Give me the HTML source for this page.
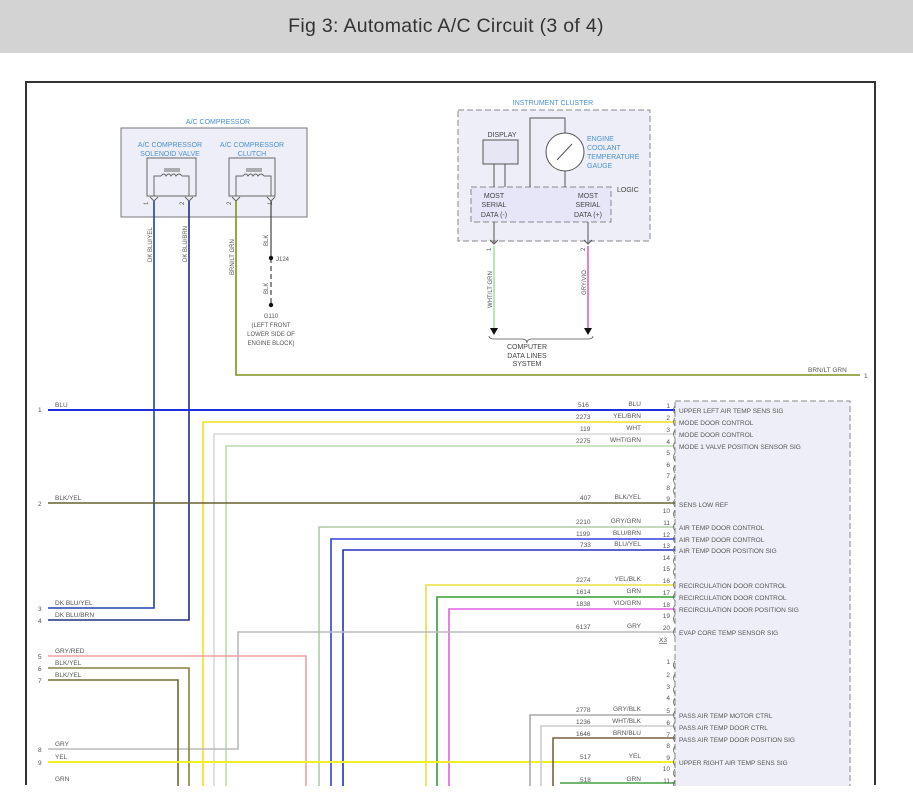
<!DOCTYPE html>
<html><head><meta charset="utf-8"><style>
html,body{margin:0;padding:0;background:#fff;}
svg{display:block;font-family:"Liberation Sans",sans-serif;}
</style></head><body>
<svg width="913" height="805" viewBox="0 0 913 805" xmlns="http://www.w3.org/2000/svg">
<rect x="0" y="0" width="913" height="53" fill="#d3d3d3"/>
<text x="446" y="32" text-anchor="middle" font-size="19.5" fill="#333" letter-spacing="0.3">Fig 3: Automatic A/C Circuit (3 of 4)</text>
<rect x="0" y="53" width="913" height="752" fill="#fff"/>
<path d="M26 785 V82 H875 V785" fill="none" stroke="#333" stroke-width="2"/>

<text x="218" y="124" text-anchor="middle" font-size="7" fill="#4a90d0">A/C COMPRESSOR</text>
<rect x="121" y="128" width="186" height="89" fill="#eeeef8" stroke="#777"/>
<text x="170" y="147" text-anchor="middle" font-size="7" fill="#4a90d0">A/C COMPRESSOR</text>
<text x="170" y="156" text-anchor="middle" font-size="7" fill="#4a90d0">SOLENOID VALVE</text>
<text x="252" y="147" text-anchor="middle" font-size="7" fill="#4a90d0">A/C COMPRESSOR</text>
<text x="252" y="156" text-anchor="middle" font-size="7" fill="#4a90d0">CLUTCH</text>
<g fill="none" stroke="#666" stroke-width="1">
<rect x="147" y="158" width="49" height="38"/>
<rect x="229" y="158" width="46" height="38"/>
<path d="M154 196 V176 H161 M182 176 H189 V196 M161 176 q3 -4 5 0 q3 -4 5 0 q3 -4 5 0 q3 -4 6 0 M164 171 H180 M164 169 H180"/>
<path d="M236 196 V176 H243 M264 176 H271 V196 M243 176 q3 -4 5 0 q3 -4 5 0 q3 -4 5 0 q3 -4 6 0 M246 171 H262 M246 169 H262"/>
<path d="M150 197 l4 4 l4 -4 M185 197 l4 4 l4 -4 M232 197 l4 4 l4 -4 M267 197 l4 4 l4 -4"/>
</g>
<g font-size="6" fill="#555">
<text transform="translate(148,205) rotate(-90)">1</text>
<text transform="translate(184,205) rotate(-90)">2</text>
<text transform="translate(231,205) rotate(-90)">2</text>
<text transform="translate(272,205) rotate(-90)">1</text>
<text transform="translate(152,262) rotate(-90)">DK BLU/YEL</text>
<text transform="translate(187,262) rotate(-90)">DK BLU/BRN</text>
<text transform="translate(234,275) rotate(-90)">BRN/LT GRN</text>
<text transform="translate(268,246) rotate(-90)">BLK</text>
<text transform="translate(268,294) rotate(-90)">BLK</text>
<text x="276" y="261">J124</text>
<text x="271" y="318" text-anchor="middle">G110</text>
<text x="271" y="327" text-anchor="middle">(LEFT FRONT</text>
<text x="271" y="336" text-anchor="middle">LOWER SIDE OF</text>
<text x="271" y="345" text-anchor="middle">ENGINE BLOCK)</text>
</g>
<path d="M271 201 V258" stroke="#444" stroke-width="1.2"/>
<path d="M271 258 V305" stroke="#444" stroke-width="1.2" stroke-dasharray="5,3"/>
<circle cx="271" cy="258" r="2.2" fill="#111"/>
<circle cx="271" cy="305" r="2.2" fill="#111"/>

<text x="553" y="105" text-anchor="middle" font-size="7" fill="#4a90d0">INSTRUMENT CLUSTER</text>
<rect x="458" y="110" width="192" height="131" fill="#eeeef8" stroke="#888" stroke-dasharray="6,3"/>
<rect x="471" y="187" width="140" height="35" fill="#e6e6f8" stroke="#888" stroke-dasharray="6,3"/>
<text x="502" y="137" text-anchor="middle" font-size="7" fill="#444">DISPLAY</text>
<rect x="483" y="140" width="35" height="24" fill="#e6e6f4" stroke="#555"/>
<path d="M494 164 V187 M505 164 V187 M530 187 V118 H565 V133 M565 171 V187" stroke="#555" fill="none"/>
<circle cx="565" cy="152" r="19" fill="#fff" stroke="#555"/>
<path d="M557 160 L572 144" stroke="#555"/>
<g font-size="7" fill="#4a90d0">
<text x="587" y="141">ENGINE</text><text x="587" y="150">COOLANT</text><text x="587" y="159">TEMPERATURE</text><text x="587" y="168">GAUGE</text>
</g>
<g font-size="7" fill="#444">
<text x="617" y="192">LOGIC</text>
<text x="494" y="198" text-anchor="middle">MOST</text><text x="494" y="207" text-anchor="middle">SERIAL</text><text x="494" y="217" text-anchor="middle">DATA (-)</text>
<text x="588" y="198" text-anchor="middle">MOST</text><text x="588" y="207" text-anchor="middle">SERIAL</text><text x="588" y="217" text-anchor="middle">DATA (+)</text>
<text x="527" y="349" text-anchor="middle">COMPUTER</text><text x="527" y="358" text-anchor="middle">DATA LINES</text><text x="527" y="366" text-anchor="middle">SYSTEM</text>
</g>
<path d="M494 222 V243 M588 222 V243 M490 240 l4 4 l4 -4 M584 240 l4 4 l4 -4" stroke="#555" fill="none"/>
<path d="M494 246 V328" stroke="#b8e8b0" stroke-width="2"/>
<path d="M588 246 V328" stroke="#e080e0" stroke-width="2"/>
<path d="M490 328 h8 l-4 7z M584 328 h8 l-4 7z" fill="#111"/>
<path d="M489 336 q0 3 5 3 H522 q5 0 5 4 q0 -4 5 -4 H588 q5 0 5 -3" fill="none" stroke="#555" stroke-width="0.8"/>
<g font-size="6" fill="#555">
<text transform="translate(492,308) rotate(-90)">WHT/LT GRN</text>
<text transform="translate(586,295) rotate(-90)">GRY/VIO</text>
<text transform="translate(491,251) rotate(-90)">1</text>
<text transform="translate(585,251) rotate(-90)">2</text>
</g>

<rect x="675" y="401" width="175" height="400" fill="#eeeef8" stroke="#888" stroke-dasharray="6,3"/>

<g fill="none" stroke-width="1.6">
<path d="M236 201 V375 H860" stroke="#8a8a20"/>
<path d="M236 201 V375 H860" stroke="#6a9a20" stroke-width="0.6"/>
<path d="M154 201 V608 H48" stroke="#2040b0"/>
<path d="M189 201 V620 H48" stroke="#203080"/>
<path d="M48 410 H675" stroke="#2030e0" stroke-width="2"/>
<path d="M203 790 V422 H675" stroke="#f0e020"/>
<path d="M214 790 V434 H675" stroke="#d8d8d8"/>
<path d="M226 790 V446 H675" stroke="#b8dca8"/>
<path d="M48 503 H675" stroke="#6a6030"/>
<path d="M319 790 V527 H675" stroke="#b0cca8"/>
<path d="M331 790 V539 H675" stroke="#3040e0"/>
<path d="M343 790 V550 H675" stroke="#2030c0"/>
<path d="M426 790 V585 H675" stroke="#e8e040"/>
<path d="M437 790 V597 H675" stroke="#30a030"/>
<path d="M449 790 V609 H675" stroke="#e060e0"/>
<path d="M48 749 H238 V632 H675" stroke="#bbbbbb"/>
<path d="M48 656 H306 V790" stroke="#f0a0a0"/>
<path d="M48 668 H189 V790" stroke="#8a8040"/>
<path d="M48 680 H178 V790" stroke="#706838"/>
<path d="M48 762 H675" stroke="#f0f020" stroke-width="2"/>
<path d="M530 790 V715 H675" stroke="#aaaaaa"/>
<path d="M541 790 V726 H675" stroke="#cccccc"/>
<path d="M553 790 V738 H675" stroke="#7a6040"/>
<path d="M560 783 H675" stroke="#40a040"/>
</g>

<g font-size="6.5" fill="#555">
<text x="808" y="372">BRN/LT GRN</text><text x="864" y="378">1</text>
<text x="38" y="412">1</text><text x="55" y="407">BLU</text>
<text x="38" y="506">2</text><text x="55" y="500">BLK/YEL</text>
<text x="38" y="611">3</text><text x="55" y="605">DK BLU/YEL</text>
<text x="38" y="623">4</text><text x="55" y="617">DK BLU/BRN</text>
<text x="38" y="659">5</text><text x="55" y="653">GRY/RED</text>
<text x="38" y="671">6</text><text x="55" y="665">BLK/YEL</text>
<text x="38" y="683">7</text><text x="55" y="677">BLK/YEL</text>
<text x="38" y="752">8</text><text x="55" y="746">GRY</text>
<text x="38" y="765">9</text><text x="55" y="759">YEL</text>
<text x="55" y="781">GRN</text>
</g>

<g font-size="6.5" fill="#555">
<text x="578" y="407">516</text><text x="641" y="406" text-anchor="end">BLU</text><text x="670" y="408" text-anchor="end">1</text><text x="679" y="413">UPPER LEFT AIR TEMP SENS SIG</text>
<text x="576" y="419">2273</text><text x="641" y="418" text-anchor="end">YEL/BRN</text><text x="670" y="420" text-anchor="end">2</text><text x="679" y="425">MODE DOOR CONTROL</text>
<text x="580" y="431">119</text><text x="641" y="430" text-anchor="end">WHT</text><text x="670" y="432" text-anchor="end">3</text><text x="679" y="437">MODE DOOR CONTROL</text>
<text x="576" y="443">2275</text><text x="641" y="442" text-anchor="end">WHT/GRN</text><text x="670" y="444" text-anchor="end">4</text><text x="679" y="449">MODE 1 VALVE POSITION SENSOR SIG</text>
<text x="670" y="455" text-anchor="end">5</text>
<text x="670" y="467" text-anchor="end">6</text>
<text x="670" y="478" text-anchor="end">7</text>
<text x="670" y="490" text-anchor="end">8</text>
<text x="580" y="500">407</text><text x="641" y="499" text-anchor="end">BLK/YEL</text><text x="670" y="501" text-anchor="end">9</text><text x="679" y="507">SENS LOW REF</text>
<text x="670" y="513" text-anchor="end">10</text>
<text x="576" y="524">2210</text><text x="641" y="523" text-anchor="end">GRY/GRN</text><text x="670" y="525" text-anchor="end">11</text><text x="679" y="530">AIR TEMP DOOR CONTROL</text>
<text x="576" y="536">1199</text><text x="641" y="535" text-anchor="end">BLU/BRN</text><text x="670" y="537" text-anchor="end">12</text><text x="679" y="542">AIR TEMP DOOR CONTROL</text>
<text x="580" y="547">733</text><text x="641" y="546" text-anchor="end">BLU/YEL</text><text x="670" y="548" text-anchor="end">13</text><text x="679" y="553">AIR TEMP DOOR POSITION SIG</text>
<text x="670" y="560" text-anchor="end">14</text>
<text x="670" y="571" text-anchor="end">15</text>
<text x="576" y="582">2274</text><text x="641" y="581" text-anchor="end">YEL/BLK</text><text x="670" y="583" text-anchor="end">16</text><text x="679" y="588">RECIRCULATION DOOR CONTROL</text>
<text x="576" y="594">1614</text><text x="641" y="593" text-anchor="end">GRN</text><text x="670" y="595" text-anchor="end">17</text><text x="679" y="600">RECIRCULATION DOOR CONTROL</text>
<text x="576" y="606">1838</text><text x="641" y="605" text-anchor="end">VIO/GRN</text><text x="670" y="607" text-anchor="end">18</text><text x="679" y="612">RECIRCULATION DOOR POSITION SIG</text>
<text x="670" y="618" text-anchor="end">19</text>
<text x="576" y="629">6137</text><text x="641" y="628" text-anchor="end">GRY</text><text x="670" y="630" text-anchor="end">20</text><text x="679" y="635">EVAP CORE TEMP SENSOR SIG</text>
<text x="667" y="642" text-anchor="end" text-decoration="underline">X3</text>
<text x="670" y="664" text-anchor="end">1</text>
<text x="670" y="677" text-anchor="end">2</text>
<text x="670" y="689" text-anchor="end">3</text>
<text x="670" y="700" text-anchor="end">4</text>
<text x="576" y="712">2778</text><text x="641" y="711" text-anchor="end">GRY/BLK</text><text x="670" y="713" text-anchor="end">5</text><text x="679" y="718">PASS AIR TEMP MOTOR CTRL</text>
<text x="576" y="724">1236</text><text x="641" y="723" text-anchor="end">WHT/BLK</text><text x="670" y="725" text-anchor="end">6</text><text x="679" y="730">PASS AIR TEMP DOOR CTRL</text>
<text x="576" y="736">1646</text><text x="641" y="735" text-anchor="end">BRN/BLU</text><text x="670" y="737" text-anchor="end">7</text><text x="679" y="742">PASS AIR TEMP DOOR POSITION SIG</text>
<text x="670" y="748" text-anchor="end">8</text>
<text x="580" y="759">517</text><text x="641" y="758" text-anchor="end">YEL</text><text x="670" y="760" text-anchor="end">9</text><text x="679" y="765">UPPER RIGHT AIR TEMP SENS SIG</text>
<text x="670" y="771" text-anchor="end">10</text>
<text x="580" y="782">518</text><text x="641" y="781" text-anchor="end">GRN</text><text x="670" y="783" text-anchor="end">11</text>
</g>
<g fill="none" stroke="#666" stroke-width="0.8">
<path d="M675 406 q-3 4 0 8 M675 418 q-3 4 0 8 M675 430 q-3 4 0 8 M675 442 q-3 4 0 8 M675 453 q-3 4 0 8 M675 465 q-3 4 0 8 M675 476 q-3 4 0 8 M675 487 q-3 4 0 8 M675 499 q-3 4 0 8 M675 510 q-3 4 0 8 M675 523 q-3 4 0 8 M675 535 q-3 4 0 8 M675 546 q-3 4 0 8 M675 557 q-3 4 0 8 M675 568 q-3 4 0 8 M675 581 q-3 4 0 8 M675 593 q-3 4 0 8 M675 605 q-3 4 0 8 M675 615 q-3 4 0 8 M675 628 q-3 4 0 8 M675 661 q-3 4 0 8 M675 674 q-3 4 0 8 M675 686 q-3 4 0 8 M675 698 q-3 4 0 8 M675 711 q-3 4 0 8 M675 722 q-3 4 0 8 M675 734 q-3 4 0 8 M675 746 q-3 4 0 8 M675 758 q-3 4 0 8 M675 769 q-3 4 0 8 M675 780 q-3 4 0 8"/>
</g>
<rect x="0" y="786" width="913" height="19" fill="#fff"/>
</svg>
</body></html>
